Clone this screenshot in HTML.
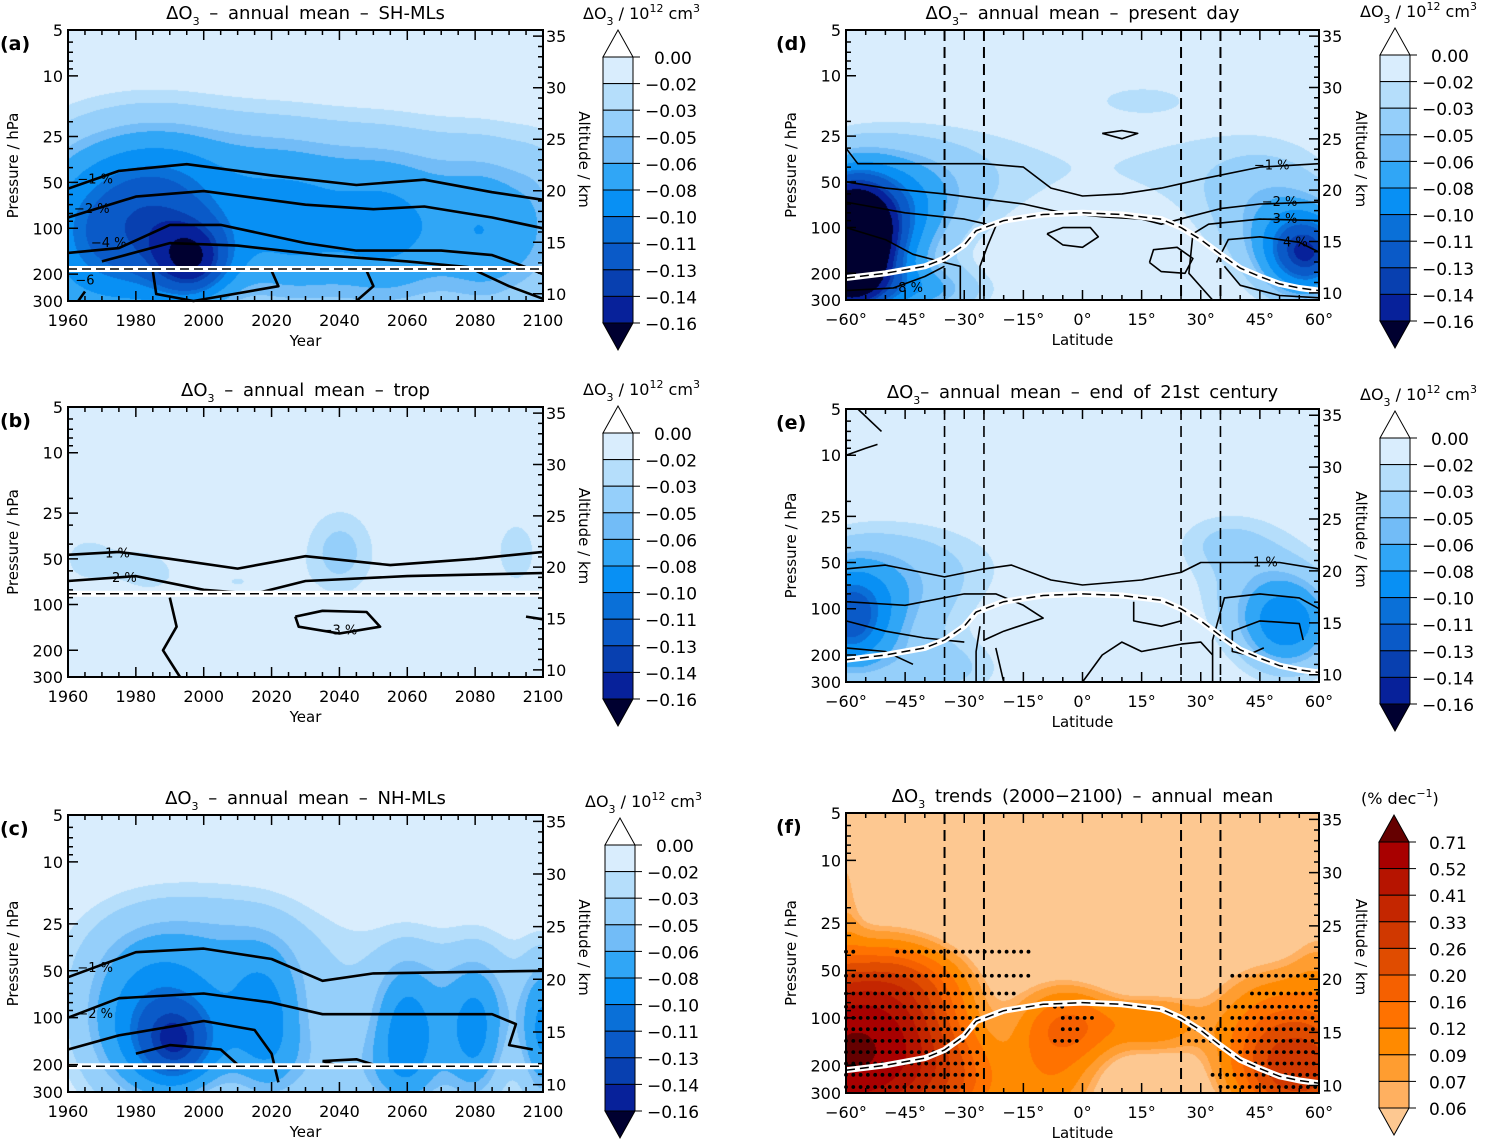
<!DOCTYPE html>
<html><head><meta charset="utf-8">
<style>
html,body{margin:0;padding:0;background:#fff;}
#wrap{position:relative;width:1507px;height:1140px;overflow:hidden;font-family:"DejaVu Sans","Liberation Sans",sans-serif;}
canvas{position:absolute;}
#fig{position:absolute;left:0;top:0;font-family:"DejaVu Sans","Liberation Sans",sans-serif;}
</style></head>
<body>
<div id="wrap">
<svg id="fig" width="1507" height="1140" xmlns="http://www.w3.org/2000/svg"></svg>
</div>
<script>
// ---------- data ----------
const yearTicks=[1960,1980,2000,2020,2040,2060,2080,2100];
const latTicks=[-60,-45,-30,-15,0,15,30,45,60];
const pTicks=[5,10,25,50,100,200,300];
const altTicks=[10,15,20,25,30,35];
const blueLevels=[0,-0.02,-0.03,-0.05,-0.06,-0.08,-0.10,-0.11,-0.13,-0.14,-0.16];
const blueLabels=['0.00','\u22120.02','\u22120.03','\u22120.05','\u22120.06','\u22120.08','\u22120.10','\u22120.11','\u22120.13','\u22120.14','\u22120.16'];
const blueColors=['#d9edfd','#b5defb','#95cffa','#72bcf7','#30a6f6','#0890f4','#0a70d8','#0a5ac8','#0840b0','#07219a','#000030'];
const orangeLevels=[0.06,0.07,0.09,0.12,0.16,0.20,0.26,0.33,0.41,0.52,0.71];
const orangeLabels=['0.06','0.07','0.09','0.12','0.16','0.20','0.26','0.33','0.41','0.52','0.71'];
const orangeColors=['#fdc891','#ffb060','#ff9d30','#ff8a00','#ff7200','#f56000','#e04c00','#d03800','#c42600','#b61400','#a80000','#650000'];

// blobs: [x, pressure, sigmaX, sigmaLogP, amplitude]
const blobsA=[[1960,120,14,0.45,-0.065],[1980,110,14,0.45,-0.07],[1997,165,8,0.18,-0.08],[1995,100,14,0.4,-0.05],[2025,120,14,0.4,-0.065],[2055,120,14,0.4,-0.07],[2085,120,12,0.4,-0.065],[2000,35,30,0.3,-0.03],[2060,40,40,0.3,-0.02],[2100,100,6,0.4,-0.02]];
const blobsB=[[1965,50,10,0.22,-0.022],[1985,60,8,0.18,-0.02],[2040,45,9,0.25,-0.035],[2092,45,7,0.25,-0.025],[2010,70,10,0.12,-0.02]];
const blobsC=[[1993,150,9,0.22,-0.08],[1980,120,14,0.4,-0.06],[2000,60,25,0.4,-0.04],[2060,130,7,0.35,-0.065],[2080,130,7,0.35,-0.07],[2100,130,5,0.35,-0.075],[2018,120,8,0.35,-0.055],[2045,230,20,0.25,-0.035],[2070,60,30,0.3,-0.025],[2000,30,25,0.25,-0.02]];
const blobsD=[[-60,140,8,0.3,-0.22],[-52,100,12,0.3,-0.07],[-45,60,15,0.25,-0.03],[57,150,8,0.2,-0.12],[48,90,12,0.3,-0.04],[-30,40,25,0.3,-0.02],[30,40,25,0.3,-0.02],[15,14,10,0.08,-0.02],[-40,260,12,0.12,-0.05]];
const blobsE=[[-60,120,8,0.25,-0.09],[-50,90,14,0.3,-0.04],[52,130,9,0.22,-0.08],[45,70,14,0.3,-0.03],[-40,50,25,0.25,-0.02],[35,35,10,0.15,-0.02],[-35,250,12,0.15,-0.03]];
const blobsF=[[-60,170,12,0.3,0.6],[-48,120,12,0.3,0.2],[-45,60,10,0.15,0.06],[-35,260,10,0.2,0.12],[-2,110,8,0.15,0.1],[-8,200,8,0.3,0.08],[18,110,8,0.12,0.08],[55,220,10,0.2,0.25],[50,110,12,0.25,0.1],[-60,15,3,0.4,0.03],[60,50,5,0.25,0.03]];

// contours: arrays of [x, pressure]
const contA=[[[1960,55],[1975,42],[1995,38],[2020,45],[2045,52],[2065,48],[2085,58],[2100,65]],[[1960,85],[1980,62],[2000,57],[2030,70],[2050,75],[2065,72],[2085,85],[2100,100]],[[1960,145],[1975,135],[1990,95],[2005,95],[2030,125],[2045,140],[2070,140],[2085,150],[2095,180],[2100,200]],[[1970,165],[1990,125],[2010,130],[2035,150],[2060,165],[2078,180],[2090,240],[2100,290]],[[1985,190],[1986,270],[1997,300],[2022,240],[2020,190]],[[2048,190],[2050,240],[2045,300]],[[1963,300],[1965,260]]];
const contB=[[[1960,47],[1975,45],[1990,50],[2010,58],[2030,48],[2055,55],[2080,50],[2100,45]],[[1960,70],[1980,65],[2000,80],[2015,85],[2030,70],[2060,65],[2100,62]],[[2027,120],[2035,110],[2048,112],[2052,140],[2040,155],[2028,140],[2027,120]],[[1990,90],[1992,140],[1988,200],[1993,300]],[[2095,120],[2100,125]]];
const contC=[[[1960,55],[1980,38],[2000,36],[2020,42],[2035,58],[2050,52],[2100,50]],[[1960,100],[1975,75],[2000,70],[2020,80],[2035,95],[2060,95],[2085,95],[2092,110],[2090,150],[2097,160]],[[1960,160],[1975,130],[2000,105],[2015,120],[2020,170],[2022,260]],[[1980,170],[1990,150],[2005,160],[2010,200]],[[2035,190],[2045,185],[2050,200],[2040,205],[2035,190]]];
const contD=[[[-60,30],[-57,38],[-40,38],[-25,38],[-15,40],[-8,55],[0,62],[10,60],[20,55],[30,48],[45,40],[60,38]],[[-60,50],[-50,55],[-35,60],[-25,65],[-15,70],[-5,80],[5,85],[15,88],[20,95],[27,85],[35,75],[45,70],[60,68]],[[-60,68],[-45,80],[-30,88],[-22,98],[-24,130],[-26,180],[-26,300]],[[28,110],[32,95],[45,88],[60,90]],[[-60,100],[-50,120],[-43,150],[-35,170],[-31,180],[-31,300]],[[34,170],[37,120],[45,115],[55,125],[60,145]],[[-9,110],[-5,100],[2,100],[4,115],[0,135],[-5,130],[-9,110]],[[17,170],[18,140],[24,135],[28,160],[26,200],[20,195],[17,170]],[[5,24],[10,23],[14,24],[10,26],[5,24]],[[28,110],[27,200],[33,300]],[[-60,260],[-48,250],[-40,210],[-35,180]],[[36,180],[40,240],[50,280],[60,290]]];
const contE=[[[-60,55],[-50,52],[-35,62],[-25,55],[-18,52],[-8,65],[0,70],[15,65],[25,58],[30,50],[40,50],[50,50],[60,55]],[[-60,90],[-45,95],[-30,80],[-22,80],[-15,95],[-10,115],[-20,140],[-25,160]],[[33,300],[33,160],[36,85],[45,80],[55,85],[60,100]],[[-60,120],[-50,140],[-40,155],[-30,165]],[[56,160],[55,125],[45,120],[38,140],[38,190],[42,200],[46,180]],[[-60,180],[-50,190],[-43,230]],[[13,90],[13,120],[20,130],[25,120],[25,100]],[[0,300],[5,200],[10,165],[15,190],[25,170],[30,165],[33,200]],[[-60,10],[-55,9],[-52,8.5]],[[-57,5],[-51,7]],[[-26,130],[-27,190],[-27,300]],[[-22,180],[-20,300]]];

// tropopause
const tropLat=[-60,-50,-40,-35,-30,-27,-20,-10,0,10,20,25,30,35,40,45,50,55,60];
const tropP=[215,200,180,160,130,105,90,82,80,82,88,100,120,150,185,210,235,250,260];
const tropYear=[1960,2100];
const tropA=[185,185];
const tropB=[85,85];
const tropC=[205,205];
const bandLats=[-35,-25,25,35];

// stippling rows for (f): pressure and lat ranges
const dotP=[38,54,70,85,100,118,140,165,195,230,275];
const dotRanges=[[[-60,-58],[-47,-13]],[[-60,-13],[38,60]],[[-60,-16],[43,60]],[[-60,-26],[-7,-5],[37,60]],[[-60,-26],[-5,3],[25,31],[38,60]],[[-60,-26],[-5,0],[27,60]],[[-60,-29],[-7,0],[27,34],[38,60]],[[-60,-25],[40,60]],[[-60,-25],[42,60]],[[-60,-25],[33,60]],[[-60,-30],[35,60]]];

// ---------- panel config ----------
const panels=[
 {k:'a',x:68,y:30,w:475,h:271,kind:'year',pal:'blue',bg:0,blobs:blobsA,cont:contA,tx:tropYear,tp:tropA,title:['\u0394O','3',' \u2013  annual mean \u2013 SH-MLs'],cb:{x:603,y:57}},
 {k:'b',x:68,y:407,w:475,h:270,kind:'year',pal:'blue',bg:0,blobs:blobsB,cont:contB,tx:tropYear,tp:tropB,title:['\u0394O','3',' \u2013  annual mean \u2013 trop'],cb:{x:603,y:433}},
 {k:'c',x:68,y:815,w:475,h:277,kind:'year',pal:'blue',bg:0,blobs:blobsC,cont:contC,tx:tropYear,tp:tropC,title:['\u0394O','3',' \u2013  annual mean \u2013 NH-MLs'],cb:{x:605,y:845}},
 {k:'d',x:846,y:30,w:473,h:270,kind:'lat',pal:'blue',bg:0,blobs:blobsD,cont:contD,tx:tropLat,tp:tropP,title:['\u0394O','3','\u2013 annual mean \u2013 present day'],cb:{x:1380,y:55}},
 {k:'e',x:846,y:409,w:473,h:273,kind:'lat',pal:'blue',bg:0,blobs:blobsE,cont:contE,tx:tropLat,tp:tropP,title:['\u0394O','3','\u2013 annual mean \u2013 end of 21st century'],cb:{x:1380,y:438}},
 {k:'f',x:846,y:813,w:473,h:280,kind:'lat',pal:'orange',bg:0.03,blobs:blobsF,cont:[],tx:tropLat,tp:tropP,title:['\u0394O','3',' trends (2000\u22122100) \u2013 annual mean'],cb:{x:1379,y:842}}
];

const NS='http://www.w3.org/2000/svg';
const svg=document.getElementById('fig');
const wrap=document.getElementById('wrap');
const L5=Math.log10(5),L300=Math.log10(300);
function mk(tag,attrs,parent){const e=document.createElementNS(NS,tag);for(const k in attrs)e.setAttribute(k,attrs[k]);(parent||svg).appendChild(e);return e;}
function xs(P,v){return P.kind==='year'?P.x+(v-1960)/140*P.w:P.x+(v+60)/120*P.w;}
function ys(P,p){return P.y+(Math.log10(p)-L5)/(L300-L5)*P.h;}
function ya(P,km){return P.y+(35.6-km)/26.3*P.h;}

panels.forEach(P=>{
 const g=mk('g',{});
 
 
 const cv=document.createElement('canvas');
 cv.width=P.w;cv.height=P.h;cv.style.left=P.x+'px';cv.style.top=P.y+'px';
 
 
 wrap.insertBefore(cv,svg);
 const ctx=cv.getContext('2d');const img=ctx.createImageData(P.w,P.h);
 const cols=(P.pal==='blue'?blueColors:orangeColors).map(c=>[parseInt(c.substr(1,2),16),parseInt(c.substr(3,2),16),parseInt(c.substr(5,2),16)]);
 const bl=P.blobs.map(b=>[b[0],Math.log10(b[1]),b[2],b[3],b[4]]);
 for(let j=0;j<P.h;j++){const L=L5+j/P.h*(L300-L5);
  for(let i=0;i<P.w;i++){const xv=P.kind==='year'?1960+i/P.w*140:-60+i/P.w*120;
   let v=P.bg;for(const b of bl){const dx=(xv-b[0])/b[2],dy=(L-b[1])/b[3];v+=b[4]*Math.exp(-0.5*(dx*dx+dy*dy));}
   let idx=0;
   if(P.pal==='blue'){for(let t=1;t<blueLevels.length;t++)if(v<blueLevels[t])idx=t;}
   else{for(let t=0;t<orangeLevels.length;t++)if(v>=orangeLevels[t])idx=t+1;}
   const c=cols[idx];const o=(j*P.w+i)*4;img.data[o]=c[0];img.data[o+1]=c[1];img.data[o+2]=c[2];img.data[o+3]=255;}}
 ctx.putImageData(img,0,0);

 if(P.k==='f'){dotP.forEach((p,r)=>{dotRanges[r].forEach(rg=>{for(let la=rg[0];la<=rg[1]+0.01;la+=1.85){const d=mk('circle',{cx:xs(P,la),cy:ys(P,p),r:1.9,fill:'#000'},g);
   
   }});});}

 P.cont.forEach((c,ci)=>{const pl=mk('polyline',{points:c.map(q=>xs(P,q[0]).toFixed(1)+','+ys(P,q[1]).toFixed(1)).join(' '),fill:'none',stroke:'#000','stroke-width':P.kind==='year'?2.6:1.6,'stroke-linejoin':'round'},g);
  
  });

 if(P.kind==='lat'){bandLats.forEach(la=>{const l=mk('line',{x1:xs(P,la),x2:xs(P,la),y1:P.y,y2:P.y+P.h,stroke:'#000','stroke-width':P.k==='d'||P.k==='f'?2:1.6,'stroke-dasharray':'11,6'},g);
  
  });}

 const tpts=P.tx.map((v,i)=>xs(P,v).toFixed(1)+','+ys(P,P.tp[i]).toFixed(1)).join(' ');
 const tw=mk('polyline',{points:tpts,fill:'none',stroke:'#fff','stroke-width':6,'stroke-linejoin':'round'},g);
 
 
 const td=mk('polyline',{points:tpts,fill:'none',stroke:'#000','stroke-width':1.5,'stroke-dasharray':'9,5'},g);
 
 

 const fr=mk('rect',{x:P.x,y:P.y,width:P.w,height:P.h,fill:'none',stroke:'#000','stroke-width':2},g);
 
 

 let tk='';
 const minorP=[6,7,8,9,20,30,40,60,70,80,90];
 pTicks.forEach(p=>{const y=ys(P,p);tk+=`M${P.x},${y}h10`;});
 minorP.forEach(p=>{const y=ys(P,p);tk+=`M${P.x},${y}h5`;});
 for(let km=10;km<=35;km++){const y=ya(P,km);tk+=`M${P.x+P.w},${y}h${km%5?-5:-10}`;}
 if(P.kind==='year'){for(let yr=1960;yr<=2100;yr+=5){const x=xs(P,yr);const l=yr%20?5:10;tk+=`M${x},${P.y+P.h}v${-l}M${x},${P.y}v${l}`;}}
 else{for(let la=-60;la<=60;la+=5){const x=xs(P,la);const l=la%15?5:10;tk+=`M${x},${P.y+P.h}v${-l}M${x},${P.y}v${l}`;}}
 const tkp=mk('path',{d:tk,stroke:'#000','stroke-width':1.5,fill:'none'},g);
 
 

 pTicks.forEach(p=>{const t=mk('text',{x:P.x-5,y:ys(P,p)+6,'text-anchor':'end','font-size':16},g);t.textContent=p;
  
  });
 altTicks.forEach(km=>{const t=mk('text',{x:P.x+P.w+3,y:ya(P,km)+6,'font-size':16},g);t.textContent=km;
  
  });
 const xt=P.kind==='year'?yearTicks:latTicks;
 xt.forEach(v=>{const t=mk('text',{x:xs(P,v),y:P.y+P.h+25,'text-anchor':'middle','font-size':16},g);
  t.textContent=P.kind==='year'?v:((v<0?'\u2212'+(-v):v)+'\u00b0');
  
  });

 const xtl=mk('text',{x:P.x+P.w/2,y:P.y+P.h+45,'text-anchor':'middle','font-size':15},g);
 xtl.textContent=P.kind==='year'?'Year':'Latitude';
 
 
 const lx=P.kind==='year'?18:796;
 const ytl=mk('text',{x:lx,y:P.y+P.h/2,'text-anchor':'middle','font-size':15,transform:`rotate(-90 ${lx} ${P.y+P.h/2})`},g);
 ytl.textContent='Pressure / hPa';
 
 
 const ax=P.kind==='year'?579:1356;
 const atl=mk('text',{x:ax,y:P.y+P.h/2-6,'text-anchor':'middle','font-size':15,transform:`rotate(90 ${ax} ${P.y+P.h/2-6})`},g);
 atl.textContent='Altitude / km';
 
 

 const pl=mk('text',{x:P.kind==='year'?0:776,y:P.y+20,'font-size':19,'font-weight':'bold'},g);
 pl.textContent='('+P.k+')';
 
 

 const tt=mk('text',{x:P.x+P.w/2,y:P.y-11,'text-anchor':'middle','font-size':18,'word-spacing':4},g);
 
 
 const s1=mk('tspan',{},tt);s1.textContent=P.title[0];
 const s2=mk('tspan',{'font-size':11,dy:6},tt);s2.textContent=P.title[1];
 const s3=mk('tspan',{dy:-6},tt);s3.textContent=P.title[2];

 const cb=mk('g',{},g);
 
 
 const bx=P.cb.x,by=P.cb.y,bw=30,bh=26.6;
 const isB=P.pal==='blue';
 const labels=isB?blueLabels:orangeLabels.slice().reverse();
 const boxCols=isB?blueColors.slice(0,10):orangeColors.slice(1,11).reverse();
 const topTri=isB?'#ffffff':orangeColors[11];
 const botTri=isB?blueColors[10]:orangeColors[0];
 const t1=mk('path',{d:`M${bx},${by}L${bx+bw/2},${by-27}L${bx+bw},${by}Z`,fill:topTri,stroke:'#000','stroke-width':1},cb);
 
 
 boxCols.forEach((c,i)=>{const r=mk('rect',{x:bx,y:by+i*bh,width:bw,height:bh,fill:c,stroke:'#000','stroke-width':1},cb);
  
  });
 const t2=mk('path',{d:`M${bx},${by+10*bh}L${bx+bw/2},${by+10*bh+27}L${bx+bw},${by+10*bh}Z`,fill:botTri,stroke:'#000','stroke-width':1},cb);
 
 
 labels.forEach((lb,i)=>{const y=by+i*bh;
  const tl=mk('line',{x1:bx+bw,x2:bx+bw+7,y1:y,y2:y,stroke:'#000','stroke-width':1},cb);
  
  
  const t=mk('text',{x:bx+bw+(isB?12:20),y:y+7,'font-size':17},cb);t.textContent=lb;
  if(isB&&i===0)t.setAttribute('x',bx+bw+21);
  
  });
 const ct=mk('text',{x:isB?bx-20:bx-18,y:by-38,'font-size':16},cb);
 
 
 if(isB){const a=mk('tspan',{},ct);a.textContent='\u0394O';const b=mk('tspan',{'font-size':11,dy:6},ct);b.textContent='3';
  const c=mk('tspan',{dy:-6},ct);c.textContent='  /  10';const d=mk('tspan',{'font-size':11,dy:-7},ct);d.textContent='12';
  const e=mk('tspan',{dy:7},ct);e.textContent=' cm';const f=mk('tspan',{'font-size':11,dy:-7},ct);f.textContent='3';}
 else{const a=mk('tspan',{},ct);a.textContent='(% dec';const b=mk('tspan',{'font-size':11,dy:-7},ct);b.textContent='\u22121';const c=mk('tspan',{dy:7},ct);c.textContent=')';}
});

const clabels=[['a',1968,48,'\u22121 %'],['a',1967,75,'\u22122 %'],['a',1972,125,'\u22124 %'],['a',1965,220,'\u22126'],['b',1973,46,'\u22121 %'],['b',1975,67,'\u22122 %'],['b',2040,148,'\u22123 %'],['c',1968,48,'\u22121 %'],['c',1968,95,'\u22122 %'],['d',48,39,'\u22121 %'],['d',50,68,'\u22122 %'],['d',50,88,'\u22123 %'],['d',54,125,'4 %'],['d',-45,250,'\u22128 %'],['e',45,50,'\u22121 %']];
clabels.forEach(c=>{const P=panels.find(q=>q.k===c[0]);
 const t=mk('text',{x:xs(P,c[1]),y:ys(P,c[2])+4,'font-size':13,'text-anchor':'middle'});
 t.textContent=c[3];
 
 });
</script>
</body></html>
